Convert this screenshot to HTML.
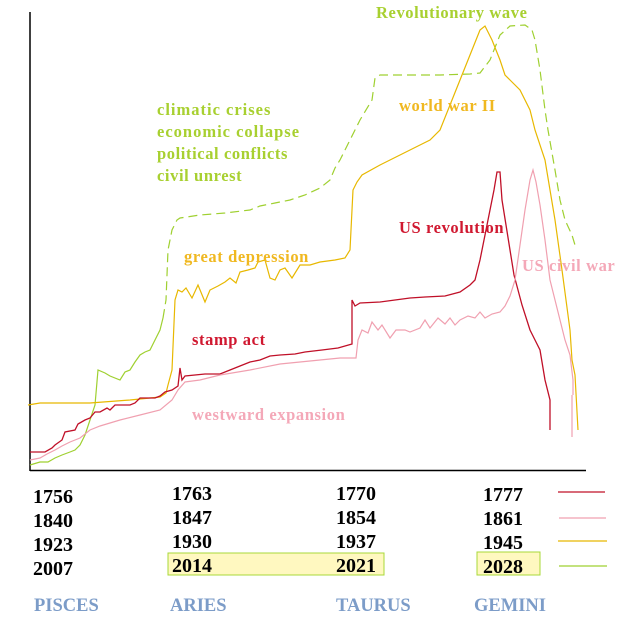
<!DOCTYPE html>
<html><head><meta charset="utf-8"><style>
body{margin:0;background:#fff;width:644px;height:630px;overflow:hidden}
svg text{font-family:"Liberation Serif",serif;font-weight:bold}
</style></head><body>
<svg width="644" height="630" xmlns="http://www.w3.org/2000/svg">
<line x1="30" y1="12" x2="30" y2="471" stroke="#000" stroke-width="1.5"/>
<line x1="30" y1="470.5" x2="586" y2="470.5" stroke="#000" stroke-width="1.5"/>
<polyline fill="none" stroke="#9fd030" stroke-width="1.2" points="30,465 40,462 48,462 55,458 62,455 70,452 75,450 80,445 85,435 90,420 95,405 98,370 105,373 110,376 120,380 125,372 130,370 135,362 140,355 145,352 150,350 155,340 160,330 163,318"/>
<polyline fill="none" stroke="#9fd030" stroke-width="1.2" stroke-dasharray="9,5" points="163,318 166,300 168,250 172,230 177,220 180,218 200,215 225,213 250,210 260,206 275,203 290,200 305,195 320,188 330,180 335,168 340,160 350,140 360,120 372,100 375,78 380,75 440,75 470,74 480,73 490,60 500,35 510,26 525,25 532,30 535,40 540,70 545,110 548,130 555,170 560,200 565,220 572,235 575,245"/>
<polyline fill="none" stroke="#e8b800" stroke-width="1.2" points="28,405 40,403 90,403 130,400 160,397 166,393 168,385 172,370 175,300 178,290 182,292 186,288 192,298 198,285 205,302 210,290 218,286 225,282 230,278 236,283 240,272 248,270 255,268 258,262 265,260 270,278 275,280 280,270 285,268 292,278 300,265 310,265 320,262 335,260 345,258 350,250 353,190 357,182 362,175 380,165 400,155 420,145 430,140 440,130 450,105 460,80 470,55 480,30 485,26 492,40 500,60 505,75 510,80 520,90 530,110 535,130 545,160 550,190 555,220 562,270 570,330 572,360 575,375 578,430"/>
<polyline fill="none" stroke="#c01028" stroke-width="1.3" points="30,452 45,452 52,448 55,445 62,440 65,432 75,430 78,424 85,420 90,418 95,412 100,412 107,408 110,410 115,405 130,405 135,403 140,398 155,398 160,396 165,392 172,390 178,386 180,368 182,380 185,376 205,374 220,374 230,370 240,366 250,362 260,360 270,356 280,355 295,354 305,352 322,350 338,348 352,344 352,300 355,306 360,303 380,302 395,300 410,298 425,297 445,296 460,292 470,285 475,280 480,260 485,235 490,210 494,190 497,172 500,172 502,200 506,225 510,250 514,275 518,290 522,305 530,330 535,340 540,350 545,380 550,400 550,430"/>
<polyline fill="none" stroke="#f0a0b0" stroke-width="1.2" points="30,460 40,458 47,454 55,450 62,446 70,442 80,438 90,430 100,426 120,420 140,415 160,410 172,400 178,390 185,382 200,380 220,375 250,370 280,364 300,362 320,360 340,358 356,358 358,340 362,330 368,333 372,322 378,330 382,325 390,338 396,330 405,330 410,332 420,328 425,320 430,328 438,318 445,324 450,318 455,325 460,320 468,316 475,318 480,312 485,318 492,314 500,312 505,306 510,296 515,280 520,245 525,210 530,180 533,170 536,182 540,205 545,240 550,280 555,300 560,320 565,340 570,355 573,380 573,395"/>
<line x1="572" y1="395" x2="572" y2="437" stroke="#f0a0b0" stroke-width="1.2"/>
<g font-size="16.5" letter-spacing="0.6">
<text x="376" y="18" fill="#a8d030">Revolutionary wave</text>
<text x="157" y="115" fill="#a8d030" letter-spacing="1">climatic crises</text>
<text x="157" y="137" fill="#a8d030" letter-spacing="1">economic collapse</text>
<text x="157" y="159" fill="#a8d030" letter-spacing="0.6">political conflicts</text>
<text x="157" y="181" fill="#a8d030" letter-spacing="0.6">civil unrest</text>
<text x="399" y="111" fill="#f0b820">world war II</text>
<text x="184" y="262" fill="#f0b820">great depression</text>
<text x="399" y="233" fill="#d01830">US revolution</text>
<text x="522" y="271" fill="#f4a8b8">US civil war</text>
<text x="192" y="345" fill="#d01830">stamp act</text>
<text x="192" y="420" fill="#f4a8b8">westward expansion</text>
</g>
<rect x="168" y="553" width="216" height="22" fill="#fff8c0" stroke="#a8d838" stroke-width="1"/>
<rect x="477" y="552" width="63" height="23" fill="#fff8c0" stroke="#a8d838" stroke-width="1"/>
<g font-size="20" fill="#000">
<text x="33" y="503">1756</text><text x="33" y="527">1840</text><text x="33" y="551">1923</text><text x="33" y="575">2007</text>
<text x="172" y="500">1763</text><text x="172" y="524">1847</text><text x="172" y="548">1930</text><text x="172" y="572">2014</text>
<text x="336" y="500">1770</text><text x="336" y="524">1854</text><text x="336" y="548">1937</text><text x="336" y="572">2021</text>
<text x="483" y="501">1777</text><text x="483" y="525">1861</text><text x="483" y="549">1945</text><text x="483" y="573">2028</text>
</g>
<line x1="558" y1="492" x2="605" y2="492" stroke="#c01028" stroke-width="1.2"/>
<line x1="559" y1="518" x2="606" y2="518" stroke="#f0a0b0" stroke-width="1.2"/>
<line x1="558" y1="541" x2="607" y2="541" stroke="#e8b800" stroke-width="1.2"/>
<line x1="559" y1="566" x2="607" y2="566" stroke="#9fd030" stroke-width="1.2"/>
<g font-size="18.5" fill="#7c9cc8">
<text x="34" y="611">PISCES</text><text x="170" y="611">ARIES</text><text x="336" y="611">TAURUS</text><text x="474" y="611">GEMINI</text>
</g>
</svg>
</body></html>
